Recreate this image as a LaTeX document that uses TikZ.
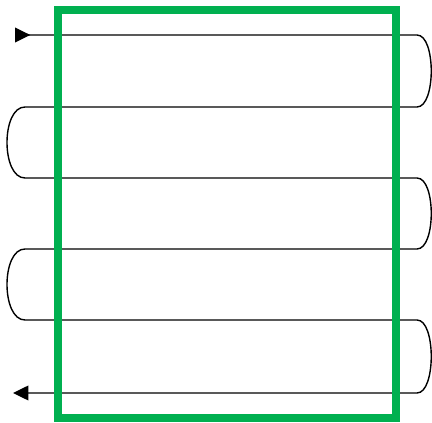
\documentclass[tikz,border=0pt]{standalone}
\usetikzlibrary{arrows.meta}
\definecolor{framegreen}{HTML}{00B050}
\begin{document}
\begin{tikzpicture}[x=0.75pt, y=-0.75pt,
    wire/.style  = {line width=1.05pt, black},
    frame/.style = {draw=framegreen, line width=6pt}
]
    \useasboundingbox (0,0) rectangle (432,423);

    %-- turning points of the serpentine -------------------------------------
    \coordinate (in)  at (15,35);
    \coordinate (r1a) at (417,35);   \coordinate (r1b) at (417,107);
    \coordinate (l1a) at (25,107);   \coordinate (l1b) at (25,178);
    \coordinate (r2a) at (417,178);  \coordinate (r2b) at (417,249);
    \coordinate (l2a) at (25,249);   \coordinate (l2b) at (25,320);
    \coordinate (r3a) at (417,320);  \coordinate (r3b) at (417,393);
    \coordinate (out) at (13,393);

    %-- serpentine line (right bends bulge +19, left bends -24) --------------
    \draw[wire, {Triangle[reversed,length=11.5pt,width=11pt]}-{Triangle[length=11.5pt,width=11pt]}]
        (in) -- (r1a) .. controls +(19,0) and +(19,0) .. (r1b)
             -- (l1a) .. controls +(-24,0) and +(-24,0) .. (l1b)
             -- (r2a) .. controls +(19,0) and +(19,0) .. (r2b)
             -- (l2a) .. controls +(-24,0) and +(-24,0) .. (l2b)
             -- (r3a) .. controls +(19,0) and +(19,0) .. (r3b)
             -- (out);

    %-- green frame on top ---------------------------------------------------
    \draw[frame] (58,10) rectangle (396,418);
\end{tikzpicture}
\end{document}
